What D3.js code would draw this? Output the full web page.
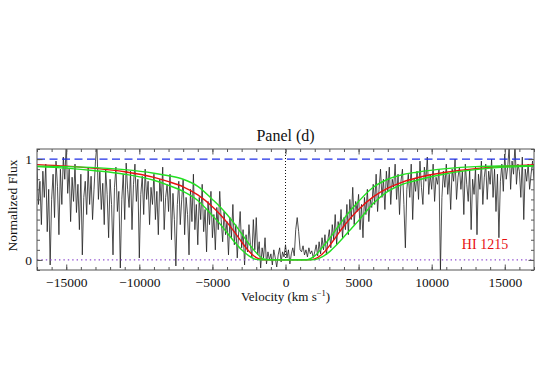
<!DOCTYPE html>
<meta charset="utf-8">
<style>
    body { margin: 0; background: #fff; }
    svg text { font-family: "Liberation Serif", "Times New Roman", "DejaVu Serif", serif !important; }
    .frame { fill: none; stroke: #555; stroke-width: 1; }
    .axis path { display: none; }
    .axis line { stroke: #555; }
    .axis text { font-size: 13.5px; fill: #111; }
</style>
<svg width="540" height="386"></svg>
<script src="https://cdn.jsdelivr.net/npm/d3@7"></script>
<script>

    // ---- data ----
    var velMajor = [-15000, -10000, -5000, 0, 5000, 10000, 15000];
    var velLabels = ["\u221215000", "\u221210000", "\u22125000", "0", "5000", "10000", "15000"];
    var fluxMajor = [0, 1];

    // observed spectrum, one value every 100 km/s from -17000 to +17000
    var specStart = -17000, specStep = 100;
    var specFlux = [
        0.92, 0.55, 0.78, 0.35, 0.88, 0.62, 0.95, 0.28, 0.70, -0.05,
        0.60, 0.85, 0.42, 0.98, 0.73, 0.25, 0.90, 0.55, 1.02, 0.80,
        1.15, 0.66, 0.90, 0.38, 0.82, 0.58, 0.95, 0.47, 0.75, 0.30,
        0.85, 0.05, 0.62, 0.78, 0.45, 0.92, 0.55, 0.83, 0.40, 0.70,
        0.98, 1.15, 0.60, 0.88, 0.50, 0.76, 0.35, 0.90, 0.65, 0.22,
        0.80, 0.55, 0.05, 0.72, 0.92, 0.48, 0.68, -0.08, 0.60, 0.85,
        0.40, 0.96, 0.70, 0.52, 0.88, 0.30, 0.75, 0.95, 0.58, 0.80,
        0.02, 0.65, 0.83, 0.45, 0.90, 0.60, 0.78, 0.35, 0.72, 0.55,
        0.85, 0.40, 0.68, 0.25, 0.80, 0.58, 0.92, 0.30, 0.62, 0.75,
        0.48, 0.85, 0.20, 0.66, 0.40, -0.06, 0.55, 0.78, 0.35, 0.60,
        0.80, 0.25, 0.62, 0.45, 0.05, 0.70, 0.38, 0.85, 0.30, 0.55,
        0.15, 0.62, 0.40, 0.75, 0.28, 0.50, 0.08, 0.58, 0.35, 0.68,
        0.22, 0.45, 0.10, 0.52, 0.30, 0.68, 0.40, 0.18, 0.48, 0.25,
        0.38, 0.05, 0.42, 0.22, 0.55, 0.15, 0.35, 0.02, 0.28, 0.48,
        0.12, 0.30, -0.05, 0.25, 0.08, 0.35, 0.15, 0.02, 0.40, 0.10,
        0.42, 0.05, 0.18, -0.08, 0.12, 0.02, 0.22, -0.04, 0.08, 0.00,
        0.06, -0.05, 0.10, 0.02, -0.07, 0.05, 0.12, -0.02, 0.08, 0.03,
        0.15, 0.02, 0.10, -0.04, 0.06, 0.12, 0.04, 0.30, 0.42, 0.28,
        0.10, 0.08, 0.14, 0.05, 0.10, 0.03, 0.12, 0.06, 0.09, 0.02,
        0.08, 0.15, 0.04, 0.18, 0.06, 0.22, 0.10, 0.25, 0.05, 0.20,
        0.30, 0.12, 0.35, 0.20, 0.45, 0.15, 0.38, 0.28, 0.50, 0.22,
        0.42, 0.30, 0.55, 0.25, 0.60, 0.40, 0.72, 0.35, 0.58, 0.48,
        0.65, 0.30, 0.55, 0.22, 0.62, 0.45, 0.70, 0.38, 0.60, 0.52,
        0.75, 0.55, 0.85, 0.48, 0.70, 0.90, 0.62, 0.80, 0.50, 0.88,
        0.68, 0.92, 0.55, 0.80, 0.72, 0.95, 0.60, 0.85, 0.45, 0.78,
        0.90, 0.55, 0.12, 0.70, 0.85, 0.62, 0.95, 0.40, 0.80, 0.68,
        0.88, 0.60, 0.98, 0.72, 0.55, 0.92, 0.78, 1.02, 0.65, 0.85,
        0.70, 0.95, 0.58, 0.82, 0.75, 0.90, -0.10, 0.62, 0.88, 0.72,
        0.95, 0.65, 0.85, 0.50, 0.90, 0.78, 1.00, 0.60, 0.82, 0.92,
        0.70, 0.88, 0.45, 0.95, 0.75, 0.58, 0.90, 0.30, 0.80, 0.65,
        0.92, 0.25, 0.85, 0.70, 0.98, 0.55, 0.82, 0.95, 0.60, 0.88,
        0.75, 1.00, 0.62, 0.90, 0.48, 0.85, 0.22, 0.78, 0.95, 0.68,
        1.05, 0.80, 0.92, 1.12, 0.70, 0.98, 0.85, 1.15, 0.75, 0.95,
        0.88, 0.62, 1.02, 0.40, 0.90, 0.78, 0.95, 0.70, 0.85, 0.98,
        0.80
    ];

    // model profiles (HI 1215) sampled at these velocities
    var modelVel = [-17000, -15000, -13000, -11000, -9000, -8000, -7000, -6000, -5000, -4500,
        -4000, -3500, -3000, -2500, -2000, -1500, -1000, 0, 1000, 1500,
        2000, 2500, 3000, 3500, 4000, 4500, 5000, 6000, 7000, 8000,
        9000, 11000, 13000, 15000, 17000];
    var modelBest = [0.945, 0.930, 0.908, 0.874, 0.818, 0.776, 0.725, 0.645, 0.528, 0.456,
        0.372, 0.278, 0.178, 0.086, 0.023, 0.002, 0, 0, 0, 0,
        0.010, 0.056, 0.139, 0.238, 0.336, 0.424, 0.501, 0.625, 0.712, 0.772,
        0.815, 0.870, 0.905, 0.928, 0.944];
    var modelLow = [0.930, 0.925, 0.915, 0.895, 0.860, 0.835, 0.800, 0.730, 0.600, 0.530,
        0.450, 0.360, 0.260, 0.160, 0.070, 0.010, 0, 0, 0, 0.003,
        0.040, 0.120, 0.210, 0.310, 0.410, 0.500, 0.580, 0.720, 0.800, 0.845,
        0.870, 0.905, 0.925, 0.932, 0.935];
    var modelHigh = [0.925, 0.910, 0.885, 0.850, 0.790, 0.740, 0.680, 0.590, 0.440, 0.360,
        0.270, 0.180, 0.100, 0.040, 0.005, 0, 0, 0, 0, 0,
        0.003, 0.030, 0.080, 0.150, 0.230, 0.310, 0.390, 0.560, 0.680, 0.750,
        0.790, 0.855, 0.895, 0.920, 0.930];

    var svg = d3.select("svg");
    var padL = 37, padR = 534, padT = 149, padB = 270;

    var x = d3.scaleLinear().domain([-17000, 17000]).range([padL, padR]);
    var y = d3.scaleLinear().domain([-0.1, 1.1]).range([padB, padT]);

    svg.append("clipPath").attr("id", "plotclip")
        .append("rect").attr("x", padL).attr("y", padT)
        .attr("width", padR - padL).attr("height", padB - padT);

    var plot = svg.append("g").attr("clip-path", "url(#plotclip)");

    var spec = specFlux.map(function(f, i) { return { v: specStart + i * specStep, f: f }; });

    plot.append("path")
        .datum(spec)
        .attr("fill", "none")
        .attr("stroke", "#222")
        .attr("stroke-width", 0.8)
        .attr("d", d3.line().x(function(d) { return x(d.v); }).y(function(d) { return y(d.f); }));

    // reference lines: continuum, zero level, line centre
    plot.append("line")
        .attr("x1", x(-17000)).attr("x2", x(17000)).attr("y1", y(1)).attr("y2", y(1))
        .attr("stroke", "#1f2fe6").attr("stroke-width", 1.3).attr("stroke-dasharray", "8,4.5");
    plot.append("line")
        .attr("x1", x(-17000)).attr("x2", x(17000)).attr("y1", y(0)).attr("y2", y(0))
        .attr("stroke", "#8f4fd0").attr("stroke-width", 1.4).attr("stroke-dasharray", "1.4,3");
    plot.append("line")
        .attr("x1", x(0)).attr("x2", x(0)).attr("y1", y(1.1)).attr("y2", y(0))
        .attr("stroke", "#111").attr("stroke-width", 1).attr("stroke-dasharray", "1,2");

    var modelLine = function(vals) {
        return d3.line().curve(d3.curveMonotoneX)
            .x(function(d, i) { return x(modelVel[i]); })
            .y(function(d) { return y(d); })(vals);
    };

    plot.append("path").attr("d", modelLine(modelBest))
        .attr("fill", "none").attr("stroke", "#e81010").attr("stroke-width", 1.4);
    [modelLow, modelHigh].forEach(function(m) {
        plot.append("path").attr("d", modelLine(m))
            .attr("fill", "none").attr("stroke", "#22e022").attr("stroke-width", 1.4);
    });

    // axes: major + minor ticks on all four sides, pointing inwards
    var minorV = d3.range(-17000, 17001, 1000);
    var minorF = d3.range(-1, 12).map(function(k) { return k / 10; });

    svg.append("g").attr("class", "axis").attr("transform", "translate(0," + padB + ")")
        .call(d3.axisBottom(x).tickValues(velMajor).tickSize(-5.5).tickPadding(7)
            .tickFormat(function(d, i) { return velLabels[i]; }));
    svg.append("g").attr("class", "axis").attr("transform", "translate(0," + padB + ")")
        .call(d3.axisBottom(x).tickValues(minorV).tickSize(-3).tickFormat(""));
    svg.append("g").attr("class", "axis").attr("transform", "translate(0," + padT + ")")
        .call(d3.axisTop(x).tickValues(velMajor).tickSize(-5.5).tickFormat(""));
    svg.append("g").attr("class", "axis").attr("transform", "translate(0," + padT + ")")
        .call(d3.axisTop(x).tickValues(minorV).tickSize(-3).tickFormat(""));

    svg.append("g").attr("class", "axis").attr("transform", "translate(" + padL + ",0)")
        .call(d3.axisLeft(y).tickValues(fluxMajor).tickSize(-5.5).tickPadding(5).tickFormat(d3.format("d")));
    svg.append("g").attr("class", "axis").attr("transform", "translate(" + padL + ",0)")
        .call(d3.axisLeft(y).tickValues(minorF).tickSize(-3).tickFormat(""));
    svg.append("g").attr("class", "axis").attr("transform", "translate(" + padR + ",0)")
        .call(d3.axisRight(y).tickValues(fluxMajor).tickSize(-5.5).tickFormat(""));
    svg.append("g").attr("class", "axis").attr("transform", "translate(" + padR + ",0)")
        .call(d3.axisRight(y).tickValues(minorF).tickSize(-3).tickFormat(""));

    svg.selectAll(".axis").attr("font-family", null);

    svg.append("rect").attr("class", "frame")
        .attr("x", padL).attr("y", padT).attr("width", padR - padL).attr("height", padB - padT);

    // titles
    svg.append("text").attr("x", (padL + padR) / 2).attr("y", 141)
        .attr("text-anchor", "middle").attr("font-size", 16).attr("fill", "#111")
        .text("Panel (d)");

    var xt = svg.append("text").attr("x", (padL + padR) / 2).attr("y", 301)
        .attr("text-anchor", "middle").attr("font-size", 13).attr("fill", "#111");
    xt.append("tspan").text("Velocity (km s");
    xt.append("tspan").attr("font-size", 8.5).attr("dy", -5).text("\u22121");
    xt.append("tspan").attr("dy", 5).text(")");

    svg.append("text").attr("transform", "translate(17," + ((padT + padB) / 2 - 4) + ") rotate(-90)")
        .attr("text-anchor", "middle").attr("font-size", 13.5).attr("fill", "#111")
        .text("Normalized Flux");

    svg.append("text").attr("x", 485).attr("y", 249)
        .attr("text-anchor", "middle").attr("font-size", 14).attr("fill", "#e81010")
        .text("HI 1215");

</script>
